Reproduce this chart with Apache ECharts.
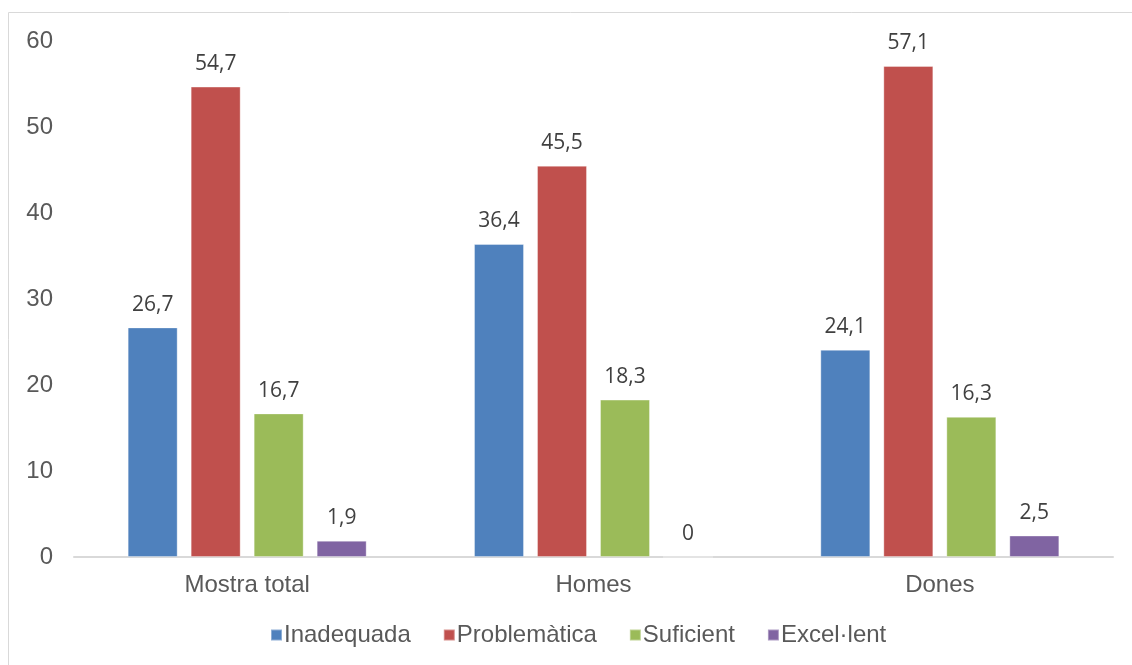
<!DOCTYPE html>
<html>
<head>
<meta charset="utf-8">
<style>
  html, body { margin: 0; padding: 0; background: #ffffff; }
  #chart { width: 1132px; height: 665px; }
</style>
<script src="https://cdn.jsdelivr.net/npm/echarts@6/dist/echarts.min.js"></script>
</head>
<body>
<div id="chart"></div>
<script>
// Groups along the x axis
const categories = ['Mostra total', 'Homes', 'Dones'];

// Percentages per rating level
const inadequada = [26.7, 36.4, 24.1];
const problematica = [54.7, 45.5, 57.1];
const suficient = [16.7, 18.3, 16.3];
const excellent = [1.9, 0, 2.5];

const seriesNames = ['Inadequada', 'Problemàtica', 'Suficient', 'Excel·lent'];
const seriesData = [inadequada, problematica, suficient, excellent];
const colors = ['#4f81bd', '#c0504d', '#9bbb59', '#8064a2'];

const chart = echarts.init(document.getElementById('chart'));

const labelFormatter = p => String(p.value).replace('.', ',');
const sans = 'Liberation Sans, Arial, sans-serif';

chart.setOption({
  animation: false,
  color: colors,
  graphic: [{
    type: 'rect',
    silent: true,
    shape: { x: 8.5, y: 12.5, width: 1200, height: 700 },
    style: { fill: 'none', stroke: '#d9d9d9', lineWidth: 1 }
  }],
  grid: { left: 74, right: 19, top: 41, bottom: 108, containLabel: false },
  legend: {
    bottom: 13,
    left: 265,
    itemWidth: 11,
    itemHeight: 11,
    itemGap: 32,
    icon: 'rect',
    textStyle: { fontFamily: sans, fontSize: 24, color: '#595959', padding: [0, 0, 0, -3] },
    data: seriesNames
  },
  xAxis: {
    type: 'category',
    data: categories,
    axisLine: { lineStyle: { color: '#d9d9d9', width: 2 } },
    axisTick: { show: false },
    axisLabel: { fontFamily: sans, fontSize: 24, color: '#595959', margin: 16 }
  },
  yAxis: {
    type: 'value',
    min: 0,
    max: 60,
    interval: 10,
    axisLine: { show: false },
    axisTick: { show: false },
    splitLine: { show: false },
    axisLabel: { fontFamily: sans, fontSize: 24, color: '#595959', margin: 21 }
  },
  series: seriesNames.map((name, i) => ({
    name: name,
    type: 'bar',
    data: seriesData[i],
    barWidth: 50,
    barGap: '26%',
    itemStyle: { color: colors[i], borderColor: 'rgba(255,255,255,0.35)', borderWidth: 1 },
    label: {
      show: true,
      position: 'top',
      distance: 12,
      formatter: labelFormatter,
      fontFamily: 'Open Sans, Lato, sans-serif',
      fontSize: 21,
      color: '#404040'
    }
  }))
});
</script>
</body>
</html>
